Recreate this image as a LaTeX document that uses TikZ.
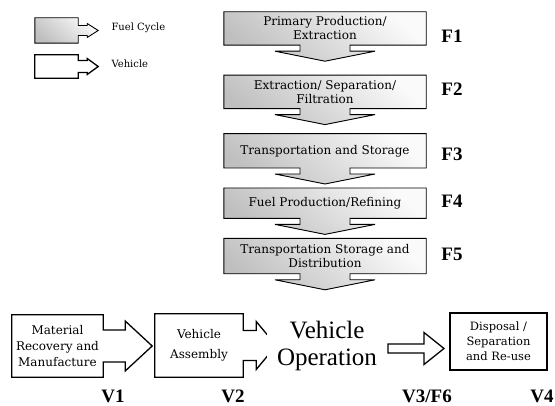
\documentclass[tikz,border=0pt]{standalone}
\usepackage{fontspec}
\setmainfont{DejaVu Serif}
\newfontfamily\tagfont{Liberation Serif}
\usepackage{tikz}
\usetikzlibrary{backgrounds,positioning,calc}

\newcommand{\fueldown}[1]{%
  \begin{scope}[on background layer]
    \path[fuelfill] (#1.north west) -- (#1.north east) -- (#1.south east)
      -- ($(#1.south)+(25,0)$) -- ($(#1.south)+(25,6)$) -- ($(#1.south)+(50,6)$)
      -- ($(#1.south)+(0,16)$) -- ($(#1.south)+(-50,6)$) -- ($(#1.south)+(-25,6)$)
      -- ($(#1.south)+(-25,0)$) -- (#1.south west) -- cycle;
  \end{scope}}
\newcommand{\boxright}[6]{%
  \begin{scope}[on background layer]
    \path[#2] (#1.south west) -- (#1.north west) -- (#1.north east)
      -- ($(#1.east)+(0,-#4)$) -- ($(#1.east)+(#3,-#4)$) -- ($(#1.east)+(#3,-#6)$)
      -- ($(#1.east)+(#3+#5,0)$) -- ($(#1.east)+(#3,#6)$) -- ($(#1.east)+(#3,#4)$)
      -- ($(#1.east)+(0,#4)$) -- (#1.south east) -- cycle;
  \end{scope}}

\begin{document}
\begin{tikzpicture}[x=1pt,y=-1pt]
        \tikzstyle{fuelfill}=[draw=black, line width=0.9pt, top color=gray!4, bottom color=gray!50, shading angle=-40]
        \tikzstyle{vehfill}=[draw=black, line width=1.3pt, fill=white]
        \tikzstyle{fuelbox}=[rectangle, minimum width=202pt, inner sep=2pt, align=center, font=\fontsize{12}{14}\selectfont]
        \tikzstyle{vehbox}=[rectangle, inner sep=2pt, align=center, font=\fontsize{12}{16}\selectfont]
        \tikzstyle{steplabel}=[font=\tagfont\bfseries\fontsize{19}{19}\selectfont]
        \tikzstyle{keytext}=[anchor=west, font=\fontsize{10}{12}\selectfont]
        \useasboundingbox (0,0) rectangle (555,406);
        % legend
        \node[rectangle, minimum width=43pt, minimum height=25pt] (keyfuel) at (56.5,30.5) {};
        \boxright{keyfuel}{fuelfill}{9}{5}{11}{7}
        \node[keytext] (keyfueltxt) at (108,28) {Fuel Cycle};
        \node[rectangle, minimum width=43pt, minimum height=23pt] (keyveh) at (56.5,66.5) {};
        \boxright{keyveh}{vehfill}{9}{6}{11}{8}
        \node[keytext] (keyvehtxt) at (108,64) {Vehicle};
        % fuel cycle
        \node[fuelbox, minimum height=33pt] (f1) at (325,28.5) {Primary Production/\\Extraction};
        \node[fuelbox, minimum height=33pt, below=30pt of f1] (f2) {Extraction/ Separation/\\Filtration};
        \node[fuelbox, minimum height=34pt, below=25pt of f2] (f3) {Transportation and Storage};
        \node[fuelbox, minimum height=30pt, below=20pt of f3] (f4) {Fuel Production/Refining};
        \node[fuelbox, minimum height=35pt, below=20pt of f4] (f5) {Transportation Storage and\\Distribution};
        \fueldown{f1}
        \fueldown{f2}
        \fueldown{f3}
        \fueldown{f4}
        \fueldown{f5}
        \node[steplabel] (lf1) at (452,36) {F1};
        \node[steplabel] (lf2) at (452,89) {F2};
        \node[steplabel] (lf3) at (452,154) {F3};
        \node[steplabel] (lf4) at (452,201) {F4};
        \node[steplabel] (lf5) at (452,254) {F5};
        % vehicle
        \node[vehbox, minimum width=91pt, minimum height=62pt] (v1) at (57.5,346) {Material\\Recovery and\\Manufacture};
        \boxright{v1}{vehfill}{22}{16}{27}{25}
        \node[vehbox, minimum width=88pt, minimum height=63pt, font=\fontsize{12}{20}\selectfont] (v2) at (199,345.5) {Vehicle\\Assembly};
        \boxright{v2}{vehfill}{13}{15}{20}{24}
        \node[fill=white, align=center, inner xsep=10pt, inner ysep=2pt, font=\tagfont\fontsize{25}{27}\selectfont] (op) at (327,346) {Vehicle\\Operation};
        \node[vehbox, draw, line width=1.3pt, minimum width=97pt, minimum height=57pt, font=\fontsize{11.5}{15}\selectfont] (v4) at (498.5,341.5) {Disposal /\\Separation\\and Re-use};
        \coordinate (opout) at (388,348.5);
        \coordinate (v4in) at (444,348.5);
        \path[vehfill] ($(opout)+(0,-4.5)$) -- ($(v4in)+(-20,-4.5)$) -- ($(v4in)+(-20,-16)$) -- (v4in)
          -- ($(v4in)+(-20,16)$) -- ($(v4in)+(-20,4.5)$) -- ($(opout)+(0,4.5)$) -- cycle;
        \node[steplabel] (lv1) at (113,396) {V1};
        \node[steplabel] (lv2) at (233,396) {V2};
        \node[steplabel] (lv3) at (427,396) {V3/F6};
        \node[steplabel] (lv4) at (542,396) {V4};
      \end{tikzpicture}
\end{document}
